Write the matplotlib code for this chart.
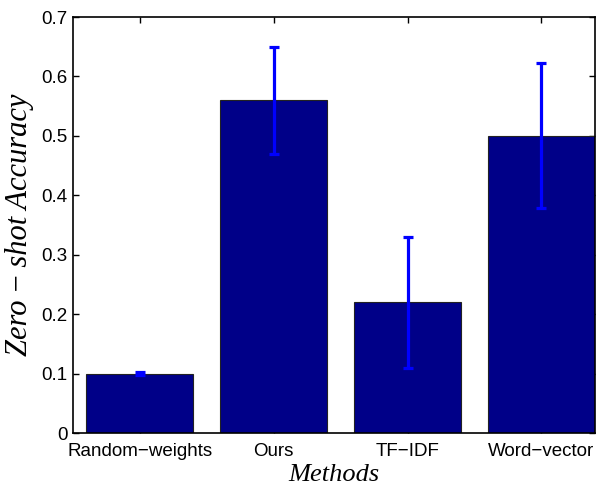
import matplotlib
matplotlib.use("Agg")
import matplotlib.pyplot as plt

# ── Data ──────────────────────────────────────────────────────────────────
methods = ["Random\u2212weights", "Ours", "TF\u2212IDF", "Word\u2212vector"]
accuracy = [0.10, 0.56, 0.22, 0.50]
errors = [0.002, 0.09, 0.11, 0.122]
y_ticks = [0, 0.1, 0.2, 0.3, 0.4, 0.5, 0.6, 0.7]

plt.rcParams["font.family"] = ["Liberation Sans", "DejaVu Sans"]
SERIF = ["Liberation Serif", "DejaVu Serif"]

fig = plt.figure(figsize=(6.06, 4.87), dpi=100)
ax = fig.add_axes([73 / 606, 1 - 433 / 487, 522 / 606, 416 / 487])

pos = list(range(1, len(methods) + 1))
ax.bar(pos, accuracy, width=0.8, color="#000088", edgecolor="#222222",
       linewidth=0.8, zorder=2)
ax.errorbar(pos, accuracy, yerr=errors, fmt="none", ecolor="#0000ff",
            elinewidth=2.3, capsize=3.3, capthick=2.3, zorder=3)

ax.set_xlim(0.5, 4.4)
ax.set_ylim(0, 0.7)
ax.set_xticks(pos)
ax.set_xticklabels(methods, fontsize=13.5)
ax.set_yticks(y_ticks)
ax.set_yticklabels([f"{t:g}" for t in y_ticks], fontsize=13.5)
ax.tick_params(direction="in", top=True, right=True, length=4, width=1)
ax.tick_params(axis="x", pad=7)
ax.tick_params(axis="y", pad=4)
for s in ax.spines.values():
    s.set_linewidth(1.2)

ax.set_xlabel("Methods", fontsize=19, style="italic", family=SERIF, labelpad=3)
ax.set_ylabel("Zero\u2009\u2212\u2009shot Accuracy", fontsize=22, style="italic",
              family=SERIF, labelpad=5)

fig.savefig("out.png", dpi=100)
